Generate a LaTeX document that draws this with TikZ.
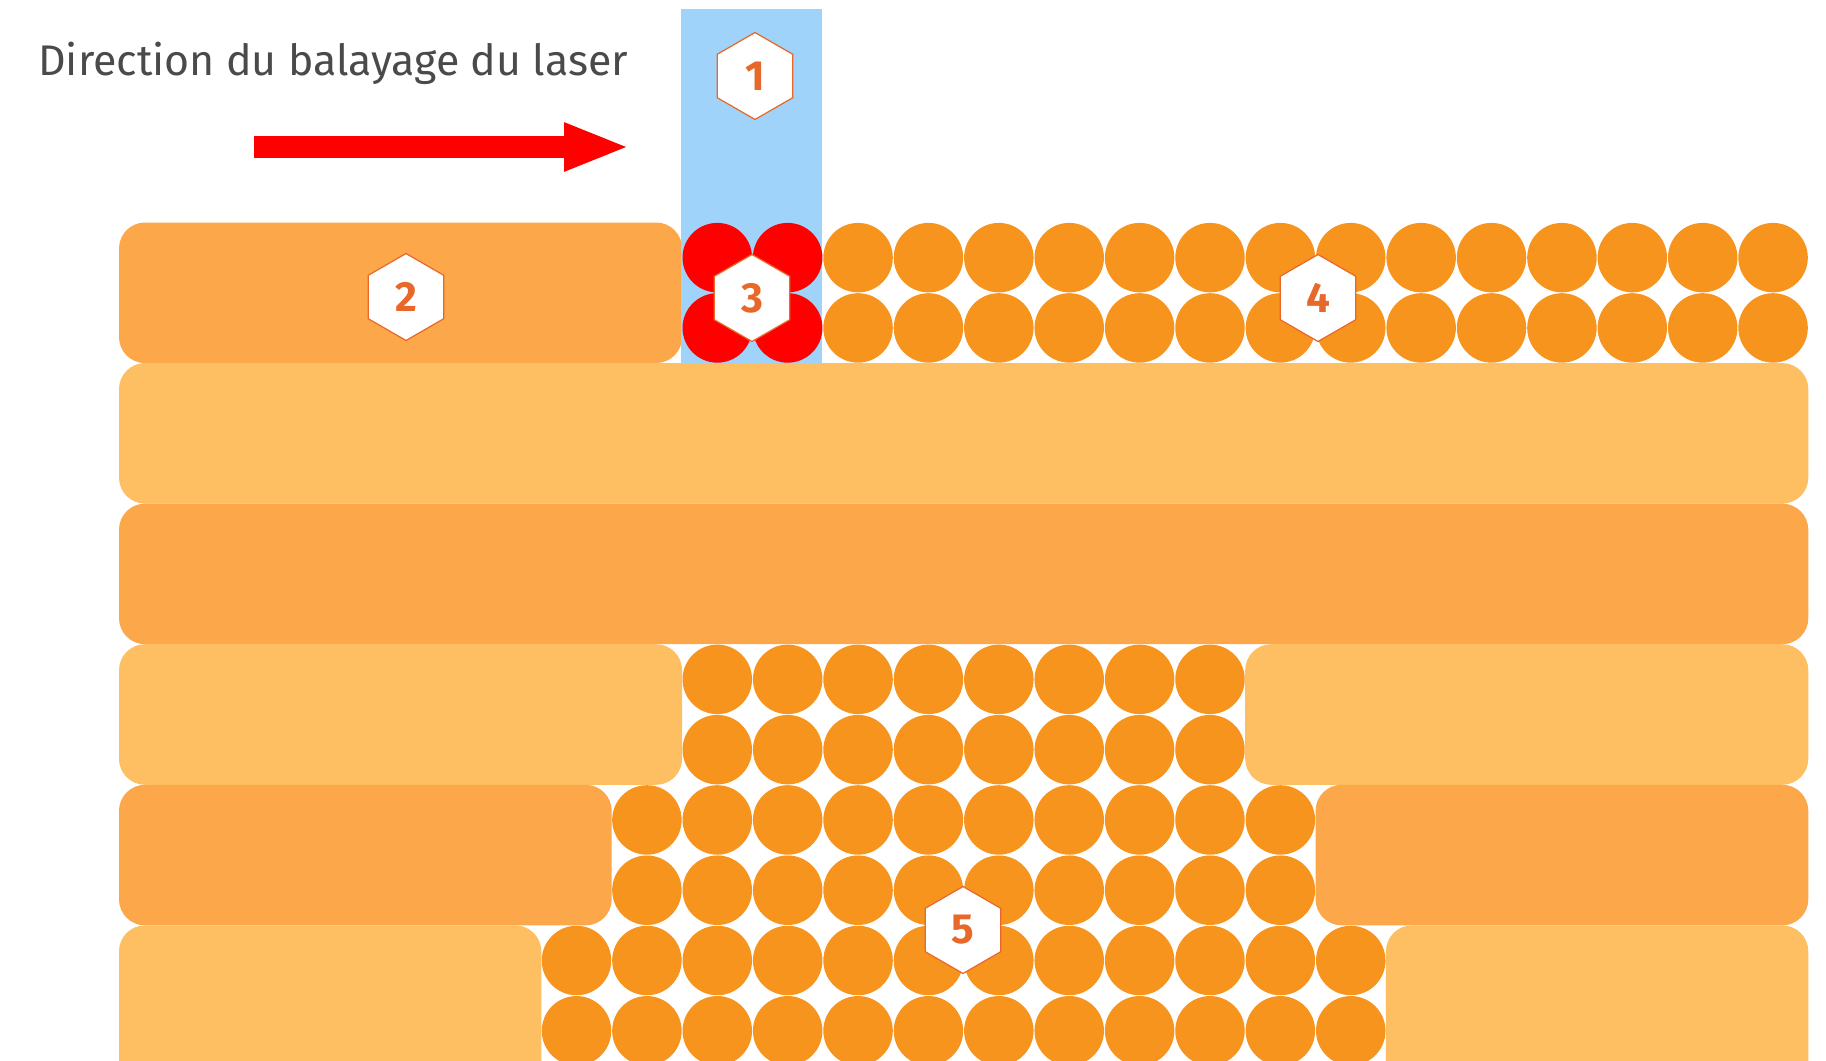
\documentclass[tikz,border=0pt]{standalone}
\usepackage{fontspec}
\setmainfont[Numbers=Lining]{Fira Sans}
\usetikzlibrary{arrows.meta, positioning, shapes.geometric}

\begin{document}
\begin{tikzpicture}[
    x=0.02cm, y=-0.02cm,
]
\definecolor{layerDark}{HTML}{FCA84A}
\definecolor{layerLight}{HTML}{FDBF62}
\definecolor{beadOrange}{HTML}{F7941E}
\definecolor{laserBlue}{HTML}{9FD3F9}
\definecolor{tagEdge}{HTML}{E8682A}
\definecolor{captionGrey}{HTML}{4A4A4A}

\tikzset{
    darkband/.style={fill=layerDark, rounded corners=0.52cm},
    lightband/.style={fill=layerLight, rounded corners=0.52cm},
    bead/.style={fill=beadOrange},
    hotbead/.style={fill=red},
    numtag/.style={
        regular polygon, regular polygon sides=6, shape border rotate=30,
        draw=tagEdge, line width=0.7pt, fill=white, minimum size=1.74cm,
        inner sep=0pt, font=\fontsize{24}{24}\selectfont\bfseries, text=tagEdge,
    },
    sweep/.style={-{Triangle[length=1.32cm, width=0.88cm]}, draw=red, line width=0.46cm},
}

\useasboundingbox (0,0) rectangle (1826,1061);
\clip (0,0) rectangle (1826,1061);

% melted column under the beam
\begin{scope}[shift={(119,222.5)}, x=1.408cm, y=-1.406cm]
\fill[darkband] (0,0) rectangle (8,2);
\fill[lightband] (0,2) rectangle (24,4);
\fill[darkband] (0,4) rectangle (24,6);
\fill[lightband] (0,6) rectangle (8,8);
\fill[lightband] (16,6) rectangle (24,8);
\fill[darkband] (0,8) rectangle (7,10);
\fill[darkband] (17,8) rectangle (24,10);
\fill[lightband] (0,10) rectangle (6,12.4);
\fill[lightband] (18,10) rectangle (24,12.4);
\end{scope}

\fill[laserBlue] (681,9) rectangle (822,363);

\begin{scope}[shift={(119,222.5)}, x=1.408cm, y=-1.406cm]
\foreach \col in {8,9}
    \foreach \row in {0,1}
        \fill[hotbead] (\col+0.5,\row+0.5) circle[radius=0.695cm];
\foreach \first/\last/\row in {10/23/0, 8/15/6, 7/16/8, 6/17/10}
    \foreach \col in {\first,...,\last} {
        \fill[bead] (\col+0.5,\row+0.5) circle[radius=0.695cm];
        \fill[bead] (\col+0.5,\row+1.5) circle[radius=0.695cm];
    }
\end{scope}

\node[anchor=base west, inner sep=0pt, text=captionGrey, font=\fontsize{24.4}{24.4}\selectfont] (caption)
    at (38,76) {Direction du balayage du laser};

\coordinate (sweepStart) at (254,147);
\coordinate (sweepEnd) at (630,147);
\draw[sweep] (sweepStart) -- (sweepEnd);

\node[numtag] (tagBeam) at (755,76) {1};
\node[numtag] (tagSolid) at (406,297) {2};
\node[numtag] (tagMelt) at (752,298) {3};
\node[numtag] (tagPowder) at (1318,298) {4};
\node[numtag] (tagBelow) at (963,930) {5};

\end{tikzpicture}
\end{document}
